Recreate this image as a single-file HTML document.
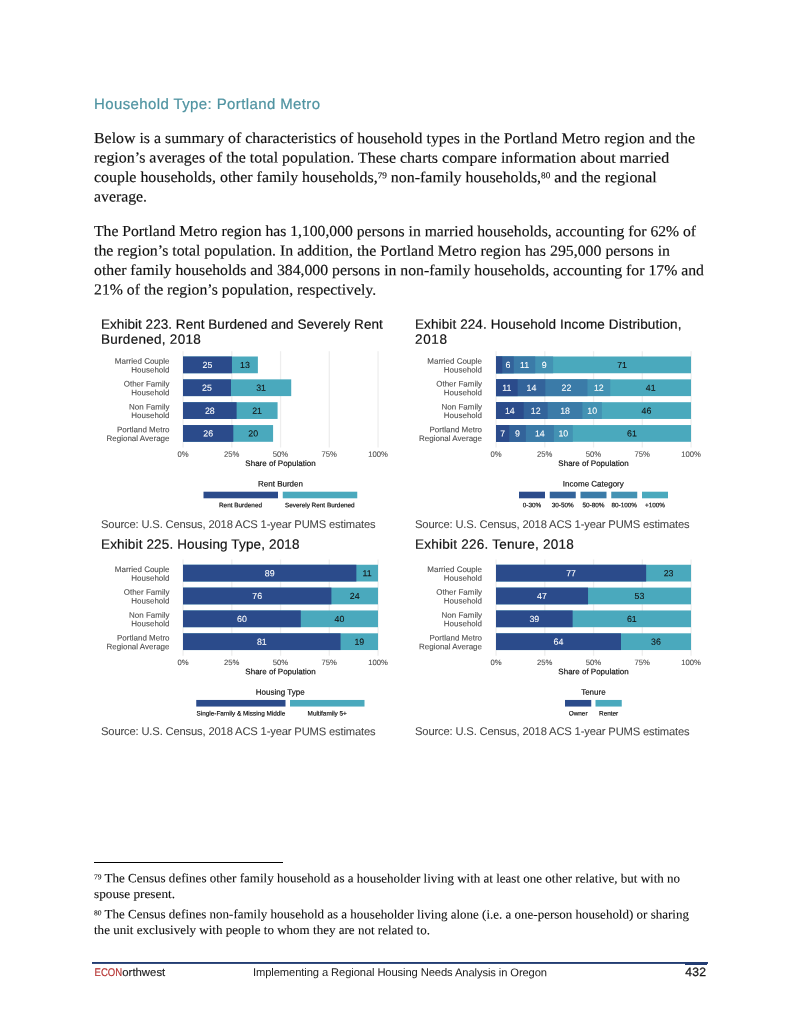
<!DOCTYPE html>
<html lang="en"><head><meta charset="utf-8"><title>Household Type: Portland Metro</title>
<style>
html,body{margin:0;padding:0;background:#fff;}
body{width:800px;height:1035px;position:relative;overflow:hidden;}
.t{position:absolute;white-space:nowrap;line-height:1;margin:0;padding:0;text-rendering:geometricPrecision;}
.s{font-family:"Liberation Sans", sans-serif;}
.r{font-family:"Liberation Serif", serif;}
.b{position:absolute;}
sup{font-size:58%;line-height:0;vertical-align:baseline;position:relative;top:-0.42em;}
</style></head><body>
<svg width="800" height="1035" viewBox="0 0 800 1035" style="position:absolute;left:0;top:0">
<rect x="94.00" y="862.00" width="189.00" height="1.00" fill="#000"/>
<rect x="92.00" y="962.00" width="616.00" height="1.90" fill="#223c72"/>
<rect x="685.00" y="962.00" width="22.00" height="3.00" fill="#223c72"/>
<rect x="182.40" y="351.20" width="1.30" height="96.30" fill="#eeeeee"/>
<rect x="231.15" y="351.20" width="1.30" height="96.30" fill="#eeeeee"/>
<rect x="279.90" y="351.20" width="1.30" height="96.30" fill="#eeeeee"/>
<rect x="328.65" y="351.20" width="1.30" height="96.30" fill="#eeeeee"/>
<rect x="377.40" y="351.20" width="1.30" height="96.30" fill="#eeeeee"/>
<rect x="183.00" y="356.50" width="74.88" height="16.75" fill="#4aa9bd"/>
<rect x="183.00" y="356.50" width="48.95" height="16.75" fill="#2b4b8b"/>
<rect x="183.00" y="379.35" width="108.22" height="16.75" fill="#4aa9bd"/>
<rect x="183.00" y="379.35" width="47.97" height="16.75" fill="#2b4b8b"/>
<rect x="183.00" y="402.20" width="94.58" height="16.75" fill="#4aa9bd"/>
<rect x="183.00" y="402.20" width="53.62" height="16.75" fill="#2b4b8b"/>
<rect x="183.00" y="425.05" width="90.09" height="16.75" fill="#4aa9bd"/>
<rect x="183.00" y="425.05" width="50.31" height="16.75" fill="#2b4b8b"/>
<rect x="203.50" y="491.70" width="74.50" height="6.60" fill="#2b4b8b"/>
<rect x="282.75" y="491.70" width="74.50" height="6.60" fill="#4aa9bd"/>
<rect x="495.40" y="351.20" width="1.30" height="96.30" fill="#eeeeee"/>
<rect x="544.15" y="351.20" width="1.30" height="96.30" fill="#eeeeee"/>
<rect x="592.90" y="351.20" width="1.30" height="96.30" fill="#eeeeee"/>
<rect x="641.65" y="351.20" width="1.30" height="96.30" fill="#eeeeee"/>
<rect x="690.40" y="351.20" width="1.30" height="96.30" fill="#eeeeee"/>
<rect x="496.00" y="356.50" width="195.00" height="16.75" fill="#4aa9bd"/>
<rect x="496.00" y="356.50" width="57.13" height="16.75" fill="#4392b3"/>
<rect x="496.00" y="356.50" width="39.20" height="16.75" fill="#3b7ba8"/>
<rect x="496.00" y="356.50" width="17.75" height="16.75" fill="#33639a"/>
<rect x="496.00" y="356.50" width="6.24" height="16.75" fill="#2b4b8b"/>
<rect x="496.00" y="379.35" width="195.00" height="16.75" fill="#4aa9bd"/>
<rect x="496.00" y="379.35" width="114.27" height="16.75" fill="#4392b3"/>
<rect x="496.00" y="379.35" width="91.45" height="16.75" fill="#3b7ba8"/>
<rect x="496.00" y="379.35" width="49.34" height="16.75" fill="#33639a"/>
<rect x="496.00" y="379.35" width="21.64" height="16.75" fill="#2b4b8b"/>
<rect x="496.00" y="402.20" width="195.00" height="16.75" fill="#4aa9bd"/>
<rect x="496.00" y="402.20" width="105.89" height="16.75" fill="#4392b3"/>
<rect x="496.00" y="402.20" width="86.39" height="16.75" fill="#3b7ba8"/>
<rect x="496.00" y="402.20" width="51.67" height="16.75" fill="#33639a"/>
<rect x="496.00" y="402.20" width="27.69" height="16.75" fill="#2b4b8b"/>
<rect x="496.00" y="425.05" width="195.00" height="16.75" fill="#4aa9bd"/>
<rect x="496.00" y="425.05" width="76.83" height="16.75" fill="#4392b3"/>
<rect x="496.00" y="425.05" width="57.91" height="16.75" fill="#3b7ba8"/>
<rect x="496.00" y="425.05" width="29.84" height="16.75" fill="#33639a"/>
<rect x="496.00" y="425.05" width="13.26" height="16.75" fill="#2b4b8b"/>
<rect x="519.00" y="491.70" width="26.00" height="6.60" fill="#2b4b8b"/>
<rect x="549.75" y="491.70" width="26.00" height="6.60" fill="#33639a"/>
<rect x="580.50" y="491.70" width="26.00" height="6.60" fill="#3b7ba8"/>
<rect x="611.25" y="491.70" width="26.00" height="6.60" fill="#4392b3"/>
<rect x="642.00" y="491.70" width="26.00" height="6.60" fill="#4aa9bd"/>
<rect x="182.40" y="559.45" width="1.30" height="96.30" fill="#eeeeee"/>
<rect x="231.15" y="559.45" width="1.30" height="96.30" fill="#eeeeee"/>
<rect x="279.90" y="559.45" width="1.30" height="96.30" fill="#eeeeee"/>
<rect x="328.65" y="559.45" width="1.30" height="96.30" fill="#eeeeee"/>
<rect x="377.40" y="559.45" width="1.30" height="96.30" fill="#eeeeee"/>
<rect x="183.00" y="564.75" width="195.00" height="16.75" fill="#4aa9bd"/>
<rect x="183.00" y="564.75" width="173.35" height="16.75" fill="#2b4b8b"/>
<rect x="183.00" y="587.60" width="195.00" height="16.75" fill="#4aa9bd"/>
<rect x="183.00" y="587.60" width="148.39" height="16.75" fill="#2b4b8b"/>
<rect x="183.00" y="610.45" width="195.00" height="16.75" fill="#4aa9bd"/>
<rect x="183.00" y="610.45" width="117.78" height="16.75" fill="#2b4b8b"/>
<rect x="183.00" y="633.30" width="195.00" height="16.75" fill="#4aa9bd"/>
<rect x="183.00" y="633.30" width="157.56" height="16.75" fill="#2b4b8b"/>
<rect x="196.25" y="699.95" width="89.25" height="6.60" fill="#2b4b8b"/>
<rect x="290.00" y="699.95" width="74.50" height="6.60" fill="#4aa9bd"/>
<rect x="495.40" y="559.45" width="1.30" height="96.30" fill="#eeeeee"/>
<rect x="544.15" y="559.45" width="1.30" height="96.30" fill="#eeeeee"/>
<rect x="592.90" y="559.45" width="1.30" height="96.30" fill="#eeeeee"/>
<rect x="641.65" y="559.45" width="1.30" height="96.30" fill="#eeeeee"/>
<rect x="690.40" y="559.45" width="1.30" height="96.30" fill="#eeeeee"/>
<rect x="496.00" y="564.75" width="195.00" height="16.75" fill="#4aa9bd"/>
<rect x="496.00" y="564.75" width="150.15" height="16.75" fill="#2b4b8b"/>
<rect x="496.00" y="587.60" width="195.00" height="16.75" fill="#4aa9bd"/>
<rect x="496.00" y="587.60" width="92.04" height="16.75" fill="#2b4b8b"/>
<rect x="496.00" y="610.45" width="195.00" height="16.75" fill="#4aa9bd"/>
<rect x="496.00" y="610.45" width="76.63" height="16.75" fill="#2b4b8b"/>
<rect x="496.00" y="633.30" width="195.00" height="16.75" fill="#4aa9bd"/>
<rect x="496.00" y="633.30" width="124.99" height="16.75" fill="#2b4b8b"/>
<rect x="565.00" y="699.95" width="26.25" height="6.60" fill="#2b4b8b"/>
<rect x="595.50" y="699.95" width="26.25" height="6.60" fill="#4aa9bd"/>
</svg>
<span class="t s" style="left:94px;top:97px;font-size:15px;color:#4f93a1;transform:matrix(1,0.0005,0,1,0.00,0.00);-webkit-text-stroke:0.2px #4f93a1;letter-spacing:0.388px;">Household Type: Portland Metro</span>
<span class="t r" style="left:94px;top:131px;font-size:15.3px;color:#111;transform:matrix(1.038,0.0005,0,1,0.00,0.00);transform-origin:0 50%;-webkit-text-stroke:0.15px #111;">Below is a summary of characteristics of household types in the Portland Metro region and the</span>
<span class="t r" style="left:94px;top:150px;font-size:15.3px;color:#111;transform:matrix(1.042,0.0005,0,1,0.00,0.50);transform-origin:0 50%;-webkit-text-stroke:0.15px #111;">region’s averages of the total population. These charts compare information about married</span>
<span class="t r" style="left:94px;top:170px;font-size:15.3px;color:#111;transform:matrix(1.04,0.0005,0,1,0.00,0.00);transform-origin:0 50%;-webkit-text-stroke:0.15px #111;">couple households, other family households,<sup>79</sup> non-family households,<sup>80</sup> and the regional</span>
<span class="t r" style="left:94px;top:189px;font-size:15.3px;color:#111;transform:matrix(1.032,0.0005,0,1,0.00,0.50);transform-origin:0 50%;-webkit-text-stroke:0.15px #111;">average.</span>
<span class="t r" style="left:94px;top:224px;font-size:15.3px;color:#111;transform:matrix(1.024,0.0005,0,1,0.00,0.00);transform-origin:0 50%;-webkit-text-stroke:0.15px #111;">The Portland Metro region has 1,100,000 persons in married households, accounting for 62% of</span>
<span class="t r" style="left:94px;top:243px;font-size:15.3px;color:#111;transform:matrix(1.035,0.0005,0,1,0.00,0.50);transform-origin:0 50%;-webkit-text-stroke:0.15px #111;">the region’s total population. In addition, the Portland Metro region has 295,000 persons in</span>
<span class="t r" style="left:94px;top:263px;font-size:15.3px;color:#111;transform:matrix(1.03,0.0005,0,1,0.00,0.00);transform-origin:0 50%;-webkit-text-stroke:0.15px #111;">other family households and 384,000 persons in non-family households, accounting for 17% and</span>
<span class="t r" style="left:94px;top:282px;font-size:15.3px;color:#111;transform:matrix(1.03,0.0005,0,1,0.00,0.50);transform-origin:0 50%;-webkit-text-stroke:0.15px #111;">21% of the region’s population, respectively.</span>
<span class="t r" style="left:94px;top:872px;font-size:12.6px;color:#111;transform:matrix(1.033,0.0005,0,1,0.00,0.25);transform-origin:0 50%;-webkit-text-stroke:0.1px #111;"><sup>79</sup> The Census defines other family household as a householder living with at least one other relative, but with no</span>
<span class="t r" style="left:94px;top:888px;font-size:12.6px;color:#111;transform:matrix(1.053,0.0005,0,1,0.00,0.00);transform-origin:0 50%;-webkit-text-stroke:0.1px #111;">spouse present.</span>
<span class="t r" style="left:94px;top:908px;font-size:12.6px;color:#111;transform:matrix(1.032,0.0005,0,1,0.00,0.25);transform-origin:0 50%;-webkit-text-stroke:0.1px #111;"><sup>80</sup> The Census defines non-family household as a householder living alone (i.e. a one-person household) or sharing</span>
<span class="t r" style="left:94px;top:924px;font-size:12.6px;color:#111;transform:matrix(1.035,0.0005,0,1,0.00,0.00);transform-origin:0 50%;-webkit-text-stroke:0.1px #111;">the unit exclusively with people to whom they are not related to.</span>
<span class="t s" style="left:94px;top:968px;font-size:11.2px;color:#b5302f;transform:matrix(0.8537,0.0005,0,1,0.60,0.10);transform-origin:0 50%;-webkit-text-stroke:0.15px #b5302f;">ECON</span>
<span class="t s" style="left:122px;top:968px;font-size:11.2px;color:#222;transform:matrix(1.015,0.0005,0,1,0.30,0.10);transform-origin:0 50%;-webkit-text-stroke:0.15px #222;">orthwest</span>
<span class="t s" style="left:253px;top:968px;font-size:11.2px;color:#222;transform:matrix(1,0.0005,0,1,0.00,0.10);letter-spacing:-0.103px;">Implementing a Regional Housing Needs Analysis in Oregon</span>
<span class="t s" style="left:685px;top:966px;font-size:12.1px;color:#1a1a1a;transform:matrix(1,0.0005,0,1,0.20,0.10);-webkit-text-stroke:0.3px #1a1a1a;letter-spacing:0.337px;">432</span>
<span class="t s" style="left:101px;top:317px;font-size:13.5px;color:#111;transform:matrix(1,0.0005,0,1,0.00,0.75);-webkit-text-stroke:0.18px #111;letter-spacing:0.042px;">Exhibit 223. Rent Burdened and Severely Rent</span>
<span class="t s" style="left:101px;top:332px;font-size:13.5px;color:#111;transform:matrix(1,0.0005,0,1,0.00,0.75);-webkit-text-stroke:0.18px #111;letter-spacing:0.279px;">Burdened, 2018</span>
<span class="t s" style="left:202px;top:361px;font-size:8.8px;color:#fff;transform:matrix(1,0.0005,0,1,0.57,0.00);-webkit-text-stroke:0.08px #fff;">25</span>
<span class="t s" style="left:240px;top:361px;font-size:8.8px;color:#111;transform:matrix(1,0.0005,0,1,0.01,0.00);-webkit-text-stroke:0.08px #111;">13</span>
<span class="t s" style="left:114px;top:357px;font-size:8px;color:#4d4d4d;transform:matrix(1,0.0005,0,1,0.80,0.70);-webkit-text-stroke:0.1px #4d4d4d;">Married Couple</span>
<span class="t s" style="left:131px;top:366px;font-size:8px;color:#4d4d4d;transform:matrix(1,0.0005,0,1,0.25,0.40);-webkit-text-stroke:0.1px #4d4d4d;">Household</span>
<span class="t s" style="left:202px;top:383px;font-size:8.8px;color:#fff;transform:matrix(1,0.0005,0,1,0.09,0.85);-webkit-text-stroke:0.08px #fff;">25</span>
<span class="t s" style="left:256px;top:383px;font-size:8.8px;color:#111;transform:matrix(1,0.0005,0,1,0.20,0.85);-webkit-text-stroke:0.08px #111;">31</span>
<span class="t s" style="left:123px;top:380px;font-size:8px;color:#4d4d4d;transform:matrix(1,0.0005,0,1,0.70,0.55);-webkit-text-stroke:0.1px #4d4d4d;">Other Family</span>
<span class="t s" style="left:131px;top:389px;font-size:8px;color:#4d4d4d;transform:matrix(1,0.0005,0,1,0.25,0.25);-webkit-text-stroke:0.1px #4d4d4d;">Household</span>
<span class="t s" style="left:204px;top:406px;font-size:8.8px;color:#fff;transform:matrix(1,0.0005,0,1,0.91,0.70);-webkit-text-stroke:0.08px #fff;">28</span>
<span class="t s" style="left:252px;top:406px;font-size:8.8px;color:#111;transform:matrix(1,0.0005,0,1,0.20,0.70);-webkit-text-stroke:0.08px #111;">21</span>
<span class="t s" style="left:129px;top:403px;font-size:8px;color:#4d4d4d;transform:matrix(1,0.0005,0,1,0.05,0.40);-webkit-text-stroke:0.1px #4d4d4d;">Non Family</span>
<span class="t s" style="left:131px;top:412px;font-size:8px;color:#4d4d4d;transform:matrix(1,0.0005,0,1,0.25,0.10);-webkit-text-stroke:0.1px #4d4d4d;">Household</span>
<span class="t s" style="left:203px;top:429px;font-size:8.8px;color:#fff;transform:matrix(1,0.0005,0,1,0.26,0.55);-webkit-text-stroke:0.08px #fff;">26</span>
<span class="t s" style="left:248px;top:429px;font-size:8.8px;color:#111;transform:matrix(1,0.0005,0,1,0.30,0.55);-webkit-text-stroke:0.08px #111;">20</span>
<span class="t s" style="left:117px;top:426px;font-size:8px;color:#4d4d4d;transform:matrix(1,0.0005,0,1,0.03,0.25);-webkit-text-stroke:0.1px #4d4d4d;">Portland Metro</span>
<span class="t s" style="left:106px;top:434px;font-size:8px;color:#4d4d4d;transform:matrix(1,0.0005,0,1,0.48,0.95);-webkit-text-stroke:0.1px #4d4d4d;">Regional Average</span>
<span class="t s" style="left:177px;top:450px;font-size:7.7px;color:#4d4d4d;transform:matrix(1,0.0005,0,1,0.44,0.70);-webkit-text-stroke:0.1px #4d4d4d;">0%</span>
<span class="t s" style="left:224px;top:450px;font-size:7.7px;color:#4d4d4d;transform:matrix(1,0.0005,0,1,0.05,0.70);-webkit-text-stroke:0.1px #4d4d4d;">25%</span>
<span class="t s" style="left:272px;top:450px;font-size:7.7px;color:#4d4d4d;transform:matrix(1,0.0005,0,1,0.80,0.70);-webkit-text-stroke:0.1px #4d4d4d;">50%</span>
<span class="t s" style="left:321px;top:450px;font-size:7.7px;color:#4d4d4d;transform:matrix(1,0.0005,0,1,0.55,0.70);-webkit-text-stroke:0.1px #4d4d4d;">75%</span>
<span class="t s" style="left:368px;top:450px;font-size:7.7px;color:#4d4d4d;transform:matrix(1,0.0005,0,1,0.16,0.70);-webkit-text-stroke:0.1px #4d4d4d;">100%</span>
<span class="t s" style="left:245px;top:460px;font-size:8px;color:#111;transform:matrix(1,0.0005,0,1,0.36,0.10);-webkit-text-stroke:0.18px #111;">Share of Population</span>
<span class="t s" style="left:258px;top:480px;font-size:8px;color:#111;transform:matrix(1,0.0005,0,1,0.04,0.50);-webkit-text-stroke:0.18px #111;">Rent Burden</span>
<span class="t s" style="left:219px;top:503px;font-size:6.4px;color:#111;transform:matrix(1,0.0005,0,1,0.00,0.30);-webkit-text-stroke:0.18px #111;">Rent Burdened</span>
<span class="t s" style="left:284px;top:503px;font-size:6.4px;color:#111;transform:matrix(1,0.0005,0,1,0.98,0.30);-webkit-text-stroke:0.18px #111;">Severely Rent Burdened</span>
<span class="t s" style="left:101px;top:520px;font-size:11.2px;color:#454545;transform:matrix(1,0.0005,0,1,0.00,0.00);-webkit-text-stroke:0.05px #454545;letter-spacing:-0.153px;">Source: U.S. Census, 2018 ACS 1-year PUMS estimates</span>
<span class="t s" style="left:415px;top:317px;font-size:13.5px;color:#111;transform:matrix(1,0.0005,0,1,0.00,0.75);-webkit-text-stroke:0.18px #111;letter-spacing:0.107px;">Exhibit 224. Household Income Distribution,</span>
<span class="t s" style="left:415px;top:332px;font-size:13.5px;color:#111;transform:matrix(1,0.0005,0,1,0.00,0.75);-webkit-text-stroke:0.18px #111;letter-spacing:0.638px;">2018</span>
<span class="t s" style="left:505px;top:361px;font-size:8.8px;color:#fff;transform:matrix(1,0.0005,0,1,0.54,0.00);-webkit-text-stroke:0.08px #fff;">6</span>
<span class="t s" style="left:519px;top:361px;font-size:8.8px;color:#fff;transform:matrix(1,0.0005,0,1,0.90,0.00);-webkit-text-stroke:0.08px #fff;">11</span>
<span class="t s" style="left:541px;top:361px;font-size:8.8px;color:#fff;transform:matrix(1,0.0005,0,1,0.71,0.00);-webkit-text-stroke:0.08px #fff;">9</span>
<span class="t s" style="left:617px;top:361px;font-size:8.8px;color:#111;transform:matrix(1,0.0005,0,1,0.17,0.00);-webkit-text-stroke:0.08px #111;">71</span>
<span class="t s" style="left:427px;top:357px;font-size:8px;color:#4d4d4d;transform:matrix(1,0.0005,0,1,0.30,0.70);-webkit-text-stroke:0.1px #4d4d4d;">Married Couple</span>
<span class="t s" style="left:443px;top:366px;font-size:8px;color:#4d4d4d;transform:matrix(1,0.0005,0,1,0.75,0.40);-webkit-text-stroke:0.1px #4d4d4d;">Household</span>
<span class="t s" style="left:502px;top:383px;font-size:8.8px;color:#fff;transform:matrix(1,0.0005,0,1,0.25,0.85);-webkit-text-stroke:0.08px #fff;">11</span>
<span class="t s" style="left:526px;top:383px;font-size:8.8px;color:#fff;transform:matrix(1,0.0005,0,1,0.59,0.85);-webkit-text-stroke:0.08px #fff;">14</span>
<span class="t s" style="left:561px;top:383px;font-size:8.8px;color:#fff;transform:matrix(1,0.0005,0,1,0.50,0.85);-webkit-text-stroke:0.08px #fff;">22</span>
<span class="t s" style="left:593px;top:383px;font-size:8.8px;color:#fff;transform:matrix(1,0.0005,0,1,0.96,0.85);-webkit-text-stroke:0.08px #fff;">12</span>
<span class="t s" style="left:645px;top:383px;font-size:8.8px;color:#111;transform:matrix(1,0.0005,0,1,0.74,0.85);-webkit-text-stroke:0.08px #111;">41</span>
<span class="t s" style="left:436px;top:380px;font-size:8px;color:#4d4d4d;transform:matrix(1,0.0005,0,1,0.20,0.55);-webkit-text-stroke:0.1px #4d4d4d;">Other Family</span>
<span class="t s" style="left:443px;top:389px;font-size:8px;color:#4d4d4d;transform:matrix(1,0.0005,0,1,0.75,0.25);-webkit-text-stroke:0.1px #4d4d4d;">Household</span>
<span class="t s" style="left:504px;top:406px;font-size:8.8px;color:#fff;transform:matrix(1,0.0005,0,1,0.95,0.70);-webkit-text-stroke:0.08px #fff;">14</span>
<span class="t s" style="left:530px;top:406px;font-size:8.8px;color:#fff;transform:matrix(1,0.0005,0,1,0.78,0.70);-webkit-text-stroke:0.08px #fff;">12</span>
<span class="t s" style="left:560px;top:406px;font-size:8.8px;color:#fff;transform:matrix(1,0.0005,0,1,0.13,0.70);-webkit-text-stroke:0.08px #fff;">18</span>
<span class="t s" style="left:587px;top:406px;font-size:8.8px;color:#fff;transform:matrix(1,0.0005,0,1,0.24,0.70);-webkit-text-stroke:0.08px #fff;">10</span>
<span class="t s" style="left:641px;top:406px;font-size:8.8px;color:#111;transform:matrix(1,0.0005,0,1,0.54,0.70);-webkit-text-stroke:0.08px #111;">46</span>
<span class="t s" style="left:441px;top:403px;font-size:8px;color:#4d4d4d;transform:matrix(1,0.0005,0,1,0.55,0.40);-webkit-text-stroke:0.1px #4d4d4d;">Non Family</span>
<span class="t s" style="left:443px;top:412px;font-size:8px;color:#4d4d4d;transform:matrix(1,0.0005,0,1,0.75,0.10);-webkit-text-stroke:0.1px #4d4d4d;">Household</span>
<span class="t s" style="left:500px;top:429px;font-size:8.8px;color:#fff;transform:matrix(1,0.0005,0,1,0.18,0.55);-webkit-text-stroke:0.08px #fff;">7</span>
<span class="t s" style="left:515px;top:429px;font-size:8.8px;color:#fff;transform:matrix(1,0.0005,0,1,0.09,0.55);-webkit-text-stroke:0.08px #fff;">9</span>
<span class="t s" style="left:534px;top:429px;font-size:8.8px;color:#fff;transform:matrix(1,0.0005,0,1,0.98,0.55);-webkit-text-stroke:0.08px #fff;">14</span>
<span class="t s" style="left:558px;top:429px;font-size:8.8px;color:#fff;transform:matrix(1,0.0005,0,1,0.47,0.55);-webkit-text-stroke:0.08px #fff;">10</span>
<span class="t s" style="left:627px;top:429px;font-size:8.8px;color:#111;transform:matrix(1,0.0005,0,1,0.02,0.55);-webkit-text-stroke:0.08px #111;">61</span>
<span class="t s" style="left:429px;top:426px;font-size:8px;color:#4d4d4d;transform:matrix(1,0.0005,0,1,0.53,0.25);-webkit-text-stroke:0.1px #4d4d4d;">Portland Metro</span>
<span class="t s" style="left:418px;top:434px;font-size:8px;color:#4d4d4d;transform:matrix(1,0.0005,0,1,0.98,0.95);-webkit-text-stroke:0.1px #4d4d4d;">Regional Average</span>
<span class="t s" style="left:490px;top:450px;font-size:7.7px;color:#4d4d4d;transform:matrix(1,0.0005,0,1,0.44,0.70);-webkit-text-stroke:0.1px #4d4d4d;">0%</span>
<span class="t s" style="left:537px;top:450px;font-size:7.7px;color:#4d4d4d;transform:matrix(1,0.0005,0,1,0.05,0.70);-webkit-text-stroke:0.1px #4d4d4d;">25%</span>
<span class="t s" style="left:585px;top:450px;font-size:7.7px;color:#4d4d4d;transform:matrix(1,0.0005,0,1,0.80,0.70);-webkit-text-stroke:0.1px #4d4d4d;">50%</span>
<span class="t s" style="left:634px;top:450px;font-size:7.7px;color:#4d4d4d;transform:matrix(1,0.0005,0,1,0.55,0.70);-webkit-text-stroke:0.1px #4d4d4d;">75%</span>
<span class="t s" style="left:681px;top:450px;font-size:7.7px;color:#4d4d4d;transform:matrix(1,0.0005,0,1,0.16,0.70);-webkit-text-stroke:0.1px #4d4d4d;">100%</span>
<span class="t s" style="left:558px;top:460px;font-size:8px;color:#111;transform:matrix(1,0.0005,0,1,0.36,0.10);-webkit-text-stroke:0.18px #111;">Share of Population</span>
<span class="t s" style="left:562px;top:480px;font-size:8px;color:#111;transform:matrix(1,0.0005,0,1,0.84,0.50);-webkit-text-stroke:0.18px #111;">Income Category</span>
<span class="t s" style="left:522px;top:503px;font-size:6.4px;color:#111;transform:matrix(1,0.0005,0,1,0.76,0.30);-webkit-text-stroke:0.18px #111;">0-30%</span>
<span class="t s" style="left:551px;top:503px;font-size:6.4px;color:#111;transform:matrix(1,0.0005,0,1,0.73,0.30);-webkit-text-stroke:0.18px #111;">30-50%</span>
<span class="t s" style="left:582px;top:503px;font-size:6.4px;color:#111;transform:matrix(1,0.0005,0,1,0.48,0.30);-webkit-text-stroke:0.18px #111;">50-80%</span>
<span class="t s" style="left:611px;top:503px;font-size:6.4px;color:#111;transform:matrix(1,0.0005,0,1,0.45,0.30);-webkit-text-stroke:0.18px #111;">80-100%</span>
<span class="t s" style="left:644px;top:503px;font-size:6.4px;color:#111;transform:matrix(1,0.0005,0,1,0.96,0.30);-webkit-text-stroke:0.18px #111;">+100%</span>
<span class="t s" style="left:415px;top:520px;font-size:11.2px;color:#454545;transform:matrix(1,0.0005,0,1,0.00,0.00);-webkit-text-stroke:0.05px #454545;letter-spacing:-0.153px;">Source: U.S. Census, 2018 ACS 1-year PUMS estimates</span>
<span class="t s" style="left:101px;top:537px;font-size:13.5px;color:#111;transform:matrix(1,0.0005,0,1,0.00,0.75);-webkit-text-stroke:0.18px #111;letter-spacing:0.144px;">Exhibit 225. Housing Type, 2018</span>
<span class="t s" style="left:264px;top:569px;font-size:8.8px;color:#fff;transform:matrix(1,0.0005,0,1,0.78,0.25);-webkit-text-stroke:0.08px #fff;">89</span>
<span class="t s" style="left:362px;top:569px;font-size:8.8px;color:#111;transform:matrix(1,0.0005,0,1,0.61,0.25);-webkit-text-stroke:0.08px #111;">11</span>
<span class="t s" style="left:114px;top:565px;font-size:8px;color:#4d4d4d;transform:matrix(1,0.0005,0,1,0.80,0.95);-webkit-text-stroke:0.1px #4d4d4d;">Married Couple</span>
<span class="t s" style="left:131px;top:574px;font-size:8px;color:#4d4d4d;transform:matrix(1,0.0005,0,1,0.25,0.65);-webkit-text-stroke:0.1px #4d4d4d;">Household</span>
<span class="t s" style="left:252px;top:592px;font-size:8.8px;color:#fff;transform:matrix(1,0.0005,0,1,0.30,0.10);-webkit-text-stroke:0.08px #fff;">76</span>
<span class="t s" style="left:349px;top:592px;font-size:8.8px;color:#111;transform:matrix(1,0.0005,0,1,0.80,0.10);-webkit-text-stroke:0.08px #111;">24</span>
<span class="t s" style="left:123px;top:588px;font-size:8px;color:#4d4d4d;transform:matrix(1,0.0005,0,1,0.70,0.80);-webkit-text-stroke:0.1px #4d4d4d;">Other Family</span>
<span class="t s" style="left:131px;top:597px;font-size:8px;color:#4d4d4d;transform:matrix(1,0.0005,0,1,0.25,0.50);-webkit-text-stroke:0.1px #4d4d4d;">Household</span>
<span class="t s" style="left:236px;top:614px;font-size:8.8px;color:#fff;transform:matrix(1,0.0005,0,1,0.99,0.95);-webkit-text-stroke:0.08px #fff;">60</span>
<span class="t s" style="left:334px;top:614px;font-size:8.8px;color:#111;transform:matrix(1,0.0005,0,1,0.49,0.95);-webkit-text-stroke:0.08px #111;">40</span>
<span class="t s" style="left:129px;top:611px;font-size:8px;color:#4d4d4d;transform:matrix(1,0.0005,0,1,0.05,0.65);-webkit-text-stroke:0.1px #4d4d4d;">Non Family</span>
<span class="t s" style="left:131px;top:620px;font-size:8px;color:#4d4d4d;transform:matrix(1,0.0005,0,1,0.25,0.35);-webkit-text-stroke:0.1px #4d4d4d;">Household</span>
<span class="t s" style="left:256px;top:637px;font-size:8.8px;color:#fff;transform:matrix(1,0.0005,0,1,0.88,0.80);-webkit-text-stroke:0.08px #fff;">81</span>
<span class="t s" style="left:354px;top:637px;font-size:8.8px;color:#111;transform:matrix(1,0.0005,0,1,0.38,0.80);-webkit-text-stroke:0.08px #111;">19</span>
<span class="t s" style="left:117px;top:634px;font-size:8px;color:#4d4d4d;transform:matrix(1,0.0005,0,1,0.03,0.50);-webkit-text-stroke:0.1px #4d4d4d;">Portland Metro</span>
<span class="t s" style="left:106px;top:643px;font-size:8px;color:#4d4d4d;transform:matrix(1,0.0005,0,1,0.48,0.20);-webkit-text-stroke:0.1px #4d4d4d;">Regional Average</span>
<span class="t s" style="left:177px;top:658px;font-size:7.7px;color:#4d4d4d;transform:matrix(1,0.0005,0,1,0.44,0.95);-webkit-text-stroke:0.1px #4d4d4d;">0%</span>
<span class="t s" style="left:224px;top:658px;font-size:7.7px;color:#4d4d4d;transform:matrix(1,0.0005,0,1,0.05,0.95);-webkit-text-stroke:0.1px #4d4d4d;">25%</span>
<span class="t s" style="left:272px;top:658px;font-size:7.7px;color:#4d4d4d;transform:matrix(1,0.0005,0,1,0.80,0.95);-webkit-text-stroke:0.1px #4d4d4d;">50%</span>
<span class="t s" style="left:321px;top:658px;font-size:7.7px;color:#4d4d4d;transform:matrix(1,0.0005,0,1,0.55,0.95);-webkit-text-stroke:0.1px #4d4d4d;">75%</span>
<span class="t s" style="left:368px;top:658px;font-size:7.7px;color:#4d4d4d;transform:matrix(1,0.0005,0,1,0.16,0.95);-webkit-text-stroke:0.1px #4d4d4d;">100%</span>
<span class="t s" style="left:245px;top:668px;font-size:8px;color:#111;transform:matrix(1,0.0005,0,1,0.36,0.35);-webkit-text-stroke:0.18px #111;">Share of Population</span>
<span class="t s" style="left:255px;top:688px;font-size:8px;color:#111;transform:matrix(1,0.0005,0,1,0.81,0.75);-webkit-text-stroke:0.18px #111;">Housing Type</span>
<span class="t s" style="left:196px;top:711px;font-size:6.4px;color:#111;transform:matrix(1,0.0005,0,1,0.50,0.55);-webkit-text-stroke:0.18px #111;">Single-Family &amp; Missing Middle</span>
<span class="t s" style="left:307px;top:711px;font-size:6.4px;color:#111;transform:matrix(1,0.0005,0,1,0.57,0.55);-webkit-text-stroke:0.18px #111;">Multifamily 5+</span>
<span class="t s" style="left:101px;top:727px;font-size:11.2px;color:#454545;transform:matrix(1,0.0005,0,1,0.00,0.10);-webkit-text-stroke:0.05px #454545;letter-spacing:-0.153px;">Source: U.S. Census, 2018 ACS 1-year PUMS estimates</span>
<span class="t s" style="left:415px;top:537px;font-size:13.5px;color:#111;transform:matrix(1,0.0005,0,1,0.00,0.75);-webkit-text-stroke:0.18px #111;letter-spacing:0.245px;">Exhibit 226. Tenure, 2018</span>
<span class="t s" style="left:566px;top:569px;font-size:8.8px;color:#fff;transform:matrix(1,0.0005,0,1,0.18,0.25);-webkit-text-stroke:0.08px #fff;">77</span>
<span class="t s" style="left:663px;top:569px;font-size:8.8px;color:#111;transform:matrix(1,0.0005,0,1,0.68,0.25);-webkit-text-stroke:0.08px #111;">23</span>
<span class="t s" style="left:427px;top:565px;font-size:8px;color:#4d4d4d;transform:matrix(1,0.0005,0,1,0.30,0.95);-webkit-text-stroke:0.1px #4d4d4d;">Married Couple</span>
<span class="t s" style="left:443px;top:574px;font-size:8px;color:#4d4d4d;transform:matrix(1,0.0005,0,1,0.75,0.65);-webkit-text-stroke:0.1px #4d4d4d;">Household</span>
<span class="t s" style="left:537px;top:592px;font-size:8.8px;color:#fff;transform:matrix(1,0.0005,0,1,0.12,0.10);-webkit-text-stroke:0.08px #fff;">47</span>
<span class="t s" style="left:634px;top:592px;font-size:8.8px;color:#111;transform:matrix(1,0.0005,0,1,0.62,0.10);-webkit-text-stroke:0.08px #111;">53</span>
<span class="t s" style="left:436px;top:588px;font-size:8px;color:#4d4d4d;transform:matrix(1,0.0005,0,1,0.20,0.80);-webkit-text-stroke:0.1px #4d4d4d;">Other Family</span>
<span class="t s" style="left:443px;top:597px;font-size:8px;color:#4d4d4d;transform:matrix(1,0.0005,0,1,0.75,0.50);-webkit-text-stroke:0.1px #4d4d4d;">Household</span>
<span class="t s" style="left:529px;top:614px;font-size:8.8px;color:#fff;transform:matrix(1,0.0005,0,1,0.42,0.95);-webkit-text-stroke:0.08px #fff;">39</span>
<span class="t s" style="left:626px;top:614px;font-size:8.8px;color:#111;transform:matrix(1,0.0005,0,1,0.92,0.95);-webkit-text-stroke:0.08px #111;">61</span>
<span class="t s" style="left:441px;top:611px;font-size:8px;color:#4d4d4d;transform:matrix(1,0.0005,0,1,0.55,0.65);-webkit-text-stroke:0.1px #4d4d4d;">Non Family</span>
<span class="t s" style="left:443px;top:620px;font-size:8px;color:#4d4d4d;transform:matrix(1,0.0005,0,1,0.75,0.35);-webkit-text-stroke:0.1px #4d4d4d;">Household</span>
<span class="t s" style="left:553px;top:637px;font-size:8.8px;color:#fff;transform:matrix(1,0.0005,0,1,0.60,0.80);-webkit-text-stroke:0.08px #fff;">64</span>
<span class="t s" style="left:651px;top:637px;font-size:8.8px;color:#111;transform:matrix(1,0.0005,0,1,0.10,0.80);-webkit-text-stroke:0.08px #111;">36</span>
<span class="t s" style="left:429px;top:634px;font-size:8px;color:#4d4d4d;transform:matrix(1,0.0005,0,1,0.53,0.50);-webkit-text-stroke:0.1px #4d4d4d;">Portland Metro</span>
<span class="t s" style="left:418px;top:643px;font-size:8px;color:#4d4d4d;transform:matrix(1,0.0005,0,1,0.98,0.20);-webkit-text-stroke:0.1px #4d4d4d;">Regional Average</span>
<span class="t s" style="left:490px;top:658px;font-size:7.7px;color:#4d4d4d;transform:matrix(1,0.0005,0,1,0.44,0.95);-webkit-text-stroke:0.1px #4d4d4d;">0%</span>
<span class="t s" style="left:537px;top:658px;font-size:7.7px;color:#4d4d4d;transform:matrix(1,0.0005,0,1,0.05,0.95);-webkit-text-stroke:0.1px #4d4d4d;">25%</span>
<span class="t s" style="left:585px;top:658px;font-size:7.7px;color:#4d4d4d;transform:matrix(1,0.0005,0,1,0.80,0.95);-webkit-text-stroke:0.1px #4d4d4d;">50%</span>
<span class="t s" style="left:634px;top:658px;font-size:7.7px;color:#4d4d4d;transform:matrix(1,0.0005,0,1,0.55,0.95);-webkit-text-stroke:0.1px #4d4d4d;">75%</span>
<span class="t s" style="left:681px;top:658px;font-size:7.7px;color:#4d4d4d;transform:matrix(1,0.0005,0,1,0.16,0.95);-webkit-text-stroke:0.1px #4d4d4d;">100%</span>
<span class="t s" style="left:558px;top:668px;font-size:8px;color:#111;transform:matrix(1,0.0005,0,1,0.36,0.35);-webkit-text-stroke:0.18px #111;">Share of Population</span>
<span class="t s" style="left:581px;top:688px;font-size:8px;color:#111;transform:matrix(1,0.0005,0,1,0.17,0.75);-webkit-text-stroke:0.18px #111;">Tenure</span>
<span class="t s" style="left:568px;top:711px;font-size:6.4px;color:#111;transform:matrix(1,0.0005,0,1,0.69,0.55);-webkit-text-stroke:0.18px #111;">Owner</span>
<span class="t s" style="left:599px;top:711px;font-size:6.4px;color:#111;transform:matrix(1,0.0005,0,1,0.01,0.55);-webkit-text-stroke:0.18px #111;">Renter</span>
<span class="t s" style="left:415px;top:727px;font-size:11.2px;color:#454545;transform:matrix(1,0.0005,0,1,0.00,0.10);-webkit-text-stroke:0.05px #454545;letter-spacing:-0.153px;">Source: U.S. Census, 2018 ACS 1-year PUMS estimates</span>
</body></html>
